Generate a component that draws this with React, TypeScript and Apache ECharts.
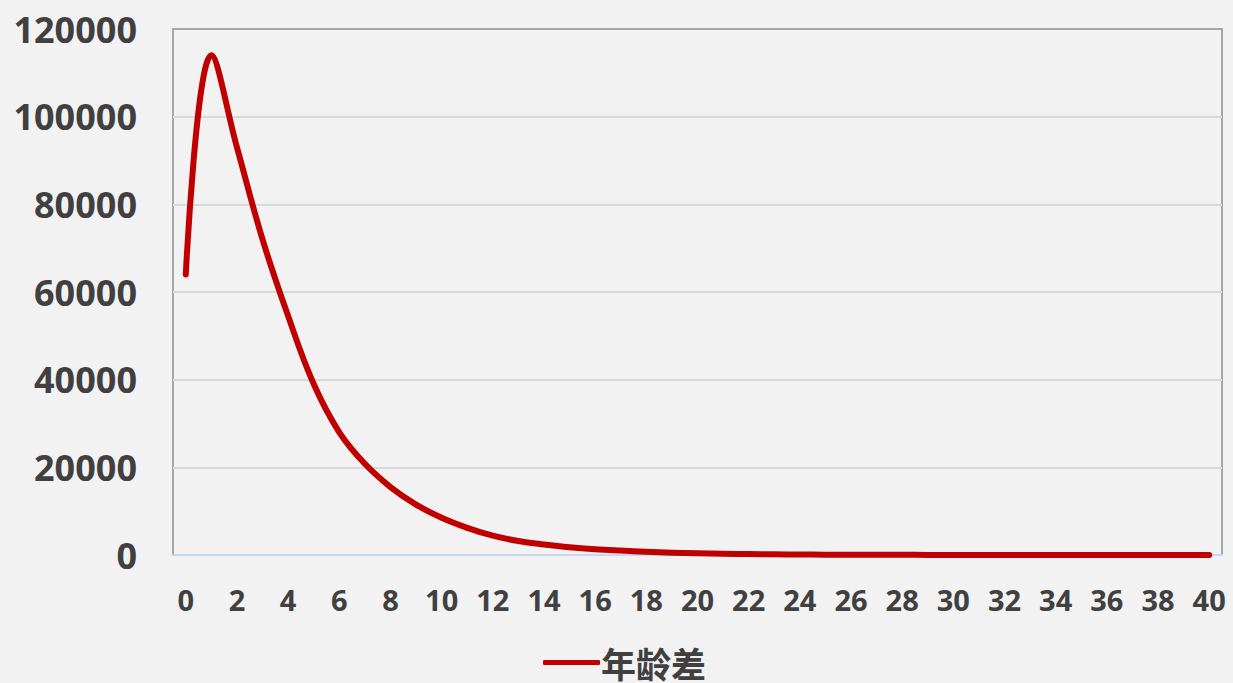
import React, { useEffect, useRef } from "react";
import * as echarts from "echarts";

const categories: string[] = Array.from({ length: 41 }, (_, i) => String(i));
const seriesName = "年龄差";
const values: number[] = [
  64000, 114000, 93000, 72000, 54500, 39000, 28000, 20800, 15500, 11500,
  8500, 6200, 4400, 3200, 2400, 1750, 1300, 1000, 750, 520,
  380, 280, 200, 150, 110, 80, 60, 45, 35, 25,
  20, 15, 12, 9, 7, 5, 4, 3, 2, 2, 1,
];
const yMin = 0;
const yMax = 120000;
const yInterval = 20000;

export default function App() {
  const ref = useRef<HTMLDivElement>(null);
  useEffect(() => {
    if (!ref.current) return;
    const chart = echarts.init(ref.current, null, { renderer: "svg" });
    chart.setOption({
      animation: false,
      backgroundColor: "#f2f2f2",
      grid: {
        left: 173,
        top: 29,
        right: 11,
        bottom: 128,
        show: true,
        borderColor: "#a6a6a6",
        borderWidth: 2,
        backgroundColor: "transparent",
      },
      legend: {
        data: [{ name: seriesName, icon: "roundRect" }],
        left: 543,
        top: 645,
        padding: 0,
        itemWidth: 57,
        itemHeight: 5,
        itemGap: 4,
        textStyle: {
          fontFamily: "Noto Sans CJK SC",
          fontSize: 35,
          lineHeight: 34,
          fontWeight: "bold",
          color: "#404040",
          padding: [0, 0, 0, -4],
        },
      },
      xAxis: [
        {
          type: "category",
          data: categories,
          boundaryGap: true,
          axisLine: { show: true, lineStyle: { color: "#c6d9f0", width: 2 } },
          axisTick: { show: false },
          axisLabel: {
            interval: 1,
            margin: 30,
            fontFamily: "Noto Sans",
            fontSize: 29,
            fontWeight: "bold",
            color: "#404040",
          },
          splitLine: { show: false },
        },
        {
          type: "category",
          data: categories,
          position: "top",
          boundaryGap: true,
          axisLine: { show: true, lineStyle: { color: "#a6a6a6", width: 2 } },
          axisTick: { show: false },
          axisLabel: { show: false },
          splitLine: { show: false },
        },
      ],
      yAxis: {
        type: "value",
        min: yMin,
        max: yMax,
        interval: yInterval,
        axisLine: { show: false },
        axisTick: { show: false },
        axisLabel: {
          margin: 36,
          fontFamily: "Noto Sans",
          fontSize: 36,
          fontWeight: "bold",
          color: "#404040",
          formatter: (v: number) => String(v),
        },
        splitLine: { show: true, lineStyle: { color: "#d9d9d9", width: 2 } },
      },
      series: [
        {
          name: seriesName,
          type: "line",
          data: values,
          smooth: 0.4,
          symbol: "none",
          lineStyle: { color: "#c00000", width: 6, cap: "round", join: "round" },
          itemStyle: { color: "#c00000" },
        },
      ],
    });
    return () => chart.dispose();
  }, []);
  return (
    <div
      ref={ref}
      style={{ position: "fixed", left: 0, top: 0, width: 1233, height: 683 }}
    />
  );
}
